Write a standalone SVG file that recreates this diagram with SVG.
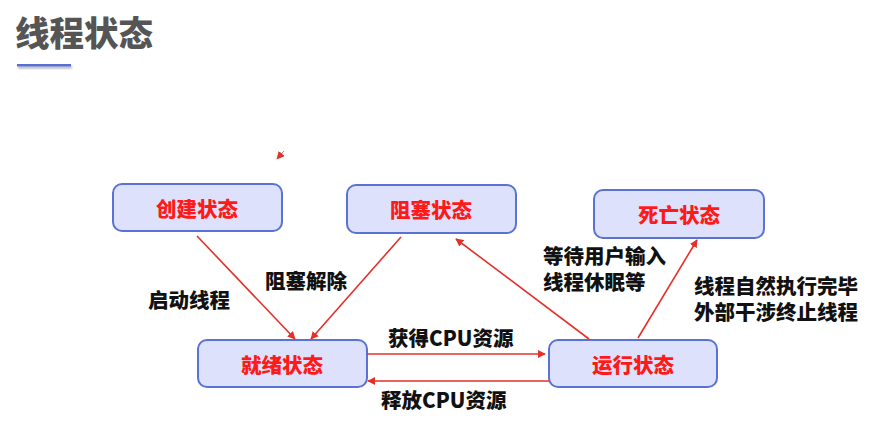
<svg xmlns="http://www.w3.org/2000/svg" width="881" height="423" viewBox="0 0 881 423">
<defs>
<style>
.node rect{fill:#dde1fb;stroke:#5a72d4;stroke-width:2}
.node text{fill:#ff1a1a;font-family:"Noto Sans CJK SC","Liberation Sans",sans-serif;font-weight:900;font-size:20.5px;text-anchor:middle;dominant-baseline:central}
.lbl{fill:#111;font-family:"Noto Sans CJK SC","Liberation Sans",sans-serif;font-weight:900;font-size:20.5px}
.conn line{stroke:#e5302a;stroke-width:1.6;marker-end:url(#ah)}
</style>
<marker id="ah" viewBox="0 0 10 10" refX="9" refY="5" markerWidth="8" markerHeight="8" orient="auto" markerUnits="userSpaceOnUse">
<path d="M0,0 L10,5 L0,10 z" fill="#e5302a"/>
</marker>
<filter id="sh" x="-20%" y="-200%" width="140%" height="600%">
<feDropShadow dx="1" dy="2" stdDeviation="1.2" flood-color="#000" flood-opacity="0.3"/>
</filter>
</defs>
<rect width="881" height="423" fill="#fff"/>
<g id="title">
<text x="15" y="46" style="fill:#555;font-family:'Noto Sans CJK SC','Liberation Sans',sans-serif;font-weight:900;font-size:34.5px">线程状态</text>
<rect x="17" y="64" width="54" height="2.5" fill="#5a6fd0" filter="url(#sh)"/>
</g>
<g id="n-create" class="node"><rect x="113" y="184" width="169" height="47" rx="9"/><text x="197" y="208">创建状态</text></g>
<g id="n-block" class="node"><rect x="347" y="185" width="169" height="48" rx="9"/><text x="431" y="209">阻塞状态</text></g>
<g id="n-dead" class="node"><rect x="594" y="190" width="170" height="48" rx="9"/><text x="679" y="214">死亡状态</text></g>
<g id="n-ready" class="node"><rect x="198" y="340" width="169" height="47" rx="9"/><text x="282" y="364">就绪状态</text></g>
<g id="n-run" class="node"><rect x="549" y="340" width="168" height="47" rx="9"/><text x="633" y="364">运行状态</text></g>
<g id="connectors" class="conn">
<line x1="197" y1="236" x2="295" y2="339"/>
<line x1="401" y1="237" x2="311" y2="339"/>
<line x1="589" y1="339" x2="456" y2="239"/>
<line x1="638" y1="338" x2="697" y2="240"/>
<line x1="367" y1="354" x2="545" y2="354"/>
<line x1="549" y1="381" x2="368" y2="381"/>
<line x1="284" y1="151" x2="277" y2="159" style="stroke-width:1;stroke:#888"/>
</g>
<g id="labels">
<text class="lbl" x="148" y="308">启动线程</text>
<text class="lbl" x="265" y="289">阻塞解除</text>
<text class="lbl" x="388" y="346">获得CPU资源</text>
<text class="lbl" x="381" y="408">释放CPU资源</text>
<text class="lbl" x="543" y="264"><tspan x="543" y="264">等待用户输入</tspan><tspan x="543" y="290">线程休眠等</tspan></text>
<text class="lbl" x="694" y="294"><tspan x="694" y="294">线程自然执行完毕</tspan><tspan x="694" y="320">外部干涉终止线程</tspan></text>
</g>
</svg>
